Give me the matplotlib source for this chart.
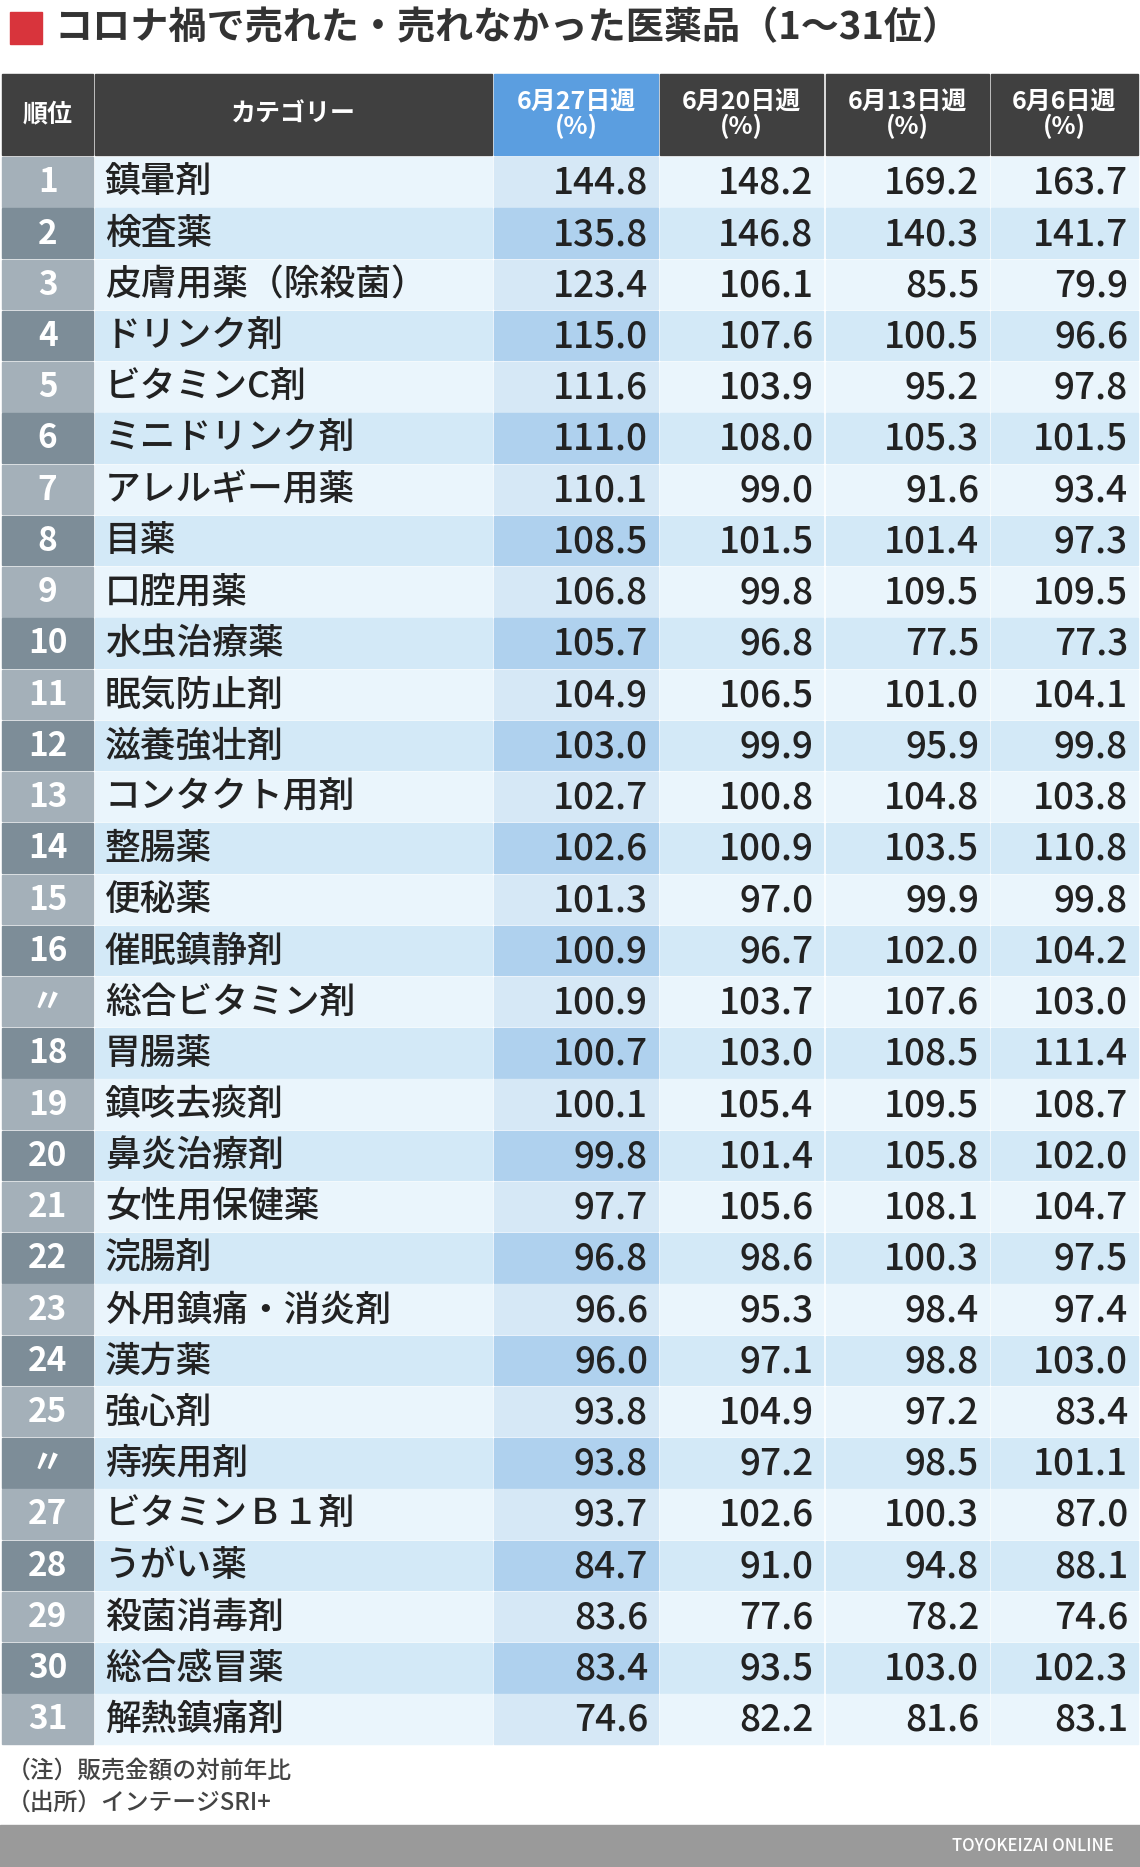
import matplotlib
matplotlib.use("Agg")
import matplotlib.pyplot as plt
from matplotlib.patches import Rectangle

title = "コロナ禍で売れた・売れなかった医薬品（1〜31位）"
headers = ["順位", "カテゴリー", "6月27日週\n(%)", "6月20日週\n(%)", "6月13日週\n(%)", "6月6日週\n(%)"]
ranks = ["1","2","3","4","5","6","7","8","9","10","11","12","13","14","15","16","〃","18","19","20",
         "21","22","23","24","25","〃","27","28","29","30","31"]
categories = ["鎮暈剤","検査薬","皮膚用薬（除殺菌）","ドリンク剤","ビタミンC剤","ミニドリンク剤","アレルギー用薬",
              "目薬","口腔用薬","水虫治療薬","眠気防止剤","滋養強壮剤","コンタクト用剤","整腸薬","便秘薬",
              "催眠鎮静剤","総合ビタミン剤","胃腸薬","鎮咳去痰剤","鼻炎治療剤","女性用保健薬","浣腸剤",
              "外用鎮痛・消炎剤","漢方薬","強心剤","痔疾用剤","ビタミンＢ１剤","うがい薬","殺菌消毒剤",
              "総合感冒薬","解熱鎮痛剤"]
w0627 = [144.8,135.8,123.4,115.0,111.6,111.0,110.1,108.5,106.8,105.7,104.9,103.0,102.7,102.6,101.3,
         100.9,100.9,100.7,100.1,99.8,97.7,96.8,96.6,96.0,93.8,93.8,93.7,84.7,83.6,83.4,74.6]
w0620 = [148.2,146.8,106.1,107.6,103.9,108.0,99.0,101.5,99.8,96.8,106.5,99.9,100.8,100.9,97.0,
         96.7,103.7,103.0,105.4,101.4,105.6,98.6,95.3,97.1,104.9,97.2,102.6,91.0,77.6,93.5,82.2]
w0613 = [169.2,140.3,85.5,100.5,95.2,105.3,91.6,101.4,109.5,77.5,101.0,95.9,104.8,103.5,99.9,
         102.0,107.6,108.5,109.5,105.8,108.1,100.3,98.4,98.8,97.2,98.5,100.3,94.8,78.2,103.0,81.6]
w0606 = [163.7,141.7,79.9,96.6,97.8,101.5,93.4,97.3,109.5,77.3,104.1,99.8,103.8,110.8,99.8,
         104.2,103.0,111.4,108.7,102.0,104.7,97.5,97.4,103.0,83.4,101.1,87.0,88.1,74.6,102.3,83.1]
notes = ["（注）販売金額の対前年比", "（出所）インテージSRI+"]
credit = "TOYOKEIZAI ONLINE"

FONT = "Noto Sans CJK JP"
W, H = 957, 1568
S = 1140 / W
fig = plt.figure(figsize=(11.4, 18.67), dpi=100)
ax = fig.add_axes([0, 0, 1, 1])
ax.set_xlim(0, W); ax.set_ylim(H, 0); ax.axis("off")

def fs(px):
    return px * S * 0.72

# title
ax.add_patch(Rectangle((8, 10), 27, 27, color="#d8343c"))
ax.text(46, 23, title, fontsize=fs(32), fontweight="bold", family=FONT, color="#333333", va="center")

cols = [(2, 78), (80, 413), (415, 552), (554, 691), (693, 830), (832, 955)]
hy0, hy1 = 62, 130
for i, (x0, x1) in enumerate(cols):
    c = "#5b9ee0" if i == 2 else "#404040"
    ax.add_patch(Rectangle((x0, hy0), x1 - x0, hy1 - hy0, color=c))
    ax.text((x0 + x1) / 2, (hy0 + hy1) / 2, headers[i], fontsize=fs(21), fontweight="bold",
            family=FONT, color="white", ha="center", va="center", linespacing=1.0)

ry0, ry1 = 132, 1466
n = len(categories)
rh = (ry1 - ry0) / n
for r in range(n):
    y0 = ry0 + r * rh
    odd = r % 2 == 0
    rowc = "#eaf5fc" if odd else "#d3e9f7"
    rankc = "#a4b0b9" if odd else "#7d8d98"
    c1c = "#d6e8f6" if odd else "#afd1ee"
    fills = [rankc, rowc, c1c, rowc, rowc, rowc]
    for i, (x0, x1) in enumerate(cols):
        ax.add_patch(Rectangle((x0, y0), x1 - x0, rh - 1.5, color=fills[i]))
    yc = y0 + rh / 2
    ax.text(40, yc, ranks[r], fontsize=fs(28), fontweight="bold", family=FONT, color="white",
            ha="center", va="center")
    ax.text(88, yc, categories[r], fontsize=fs(30), fontweight="medium", family=FONT,
            color="#222222", va="center")
    for i, vals in enumerate([w0627, w0620, w0613, w0606]):
        x1 = cols[i + 2][1]
        ax.text(x1 - 8, yc, f"{vals[r]:.1f}", fontsize=fs(31), fontweight="medium", family=FONT,
                color="#222222", ha="right", va="center")

ax.text(6, 1487, notes[0], fontsize=fs(20), fontweight="medium", family=FONT, color="#444444", va="center")
ax.text(6, 1514, notes[1], fontsize=fs(20), fontweight="medium", family=FONT, color="#444444", va="center")
ax.add_patch(Rectangle((0, 1533), W, H - 1533, color="#9a9a9a"))
ax.text(935, 1550, credit, fontsize=fs(14), fontweight="medium", family=FONT, color="white",
        ha="right", va="center")

fig.savefig("out.png", dpi=100, facecolor="white")
